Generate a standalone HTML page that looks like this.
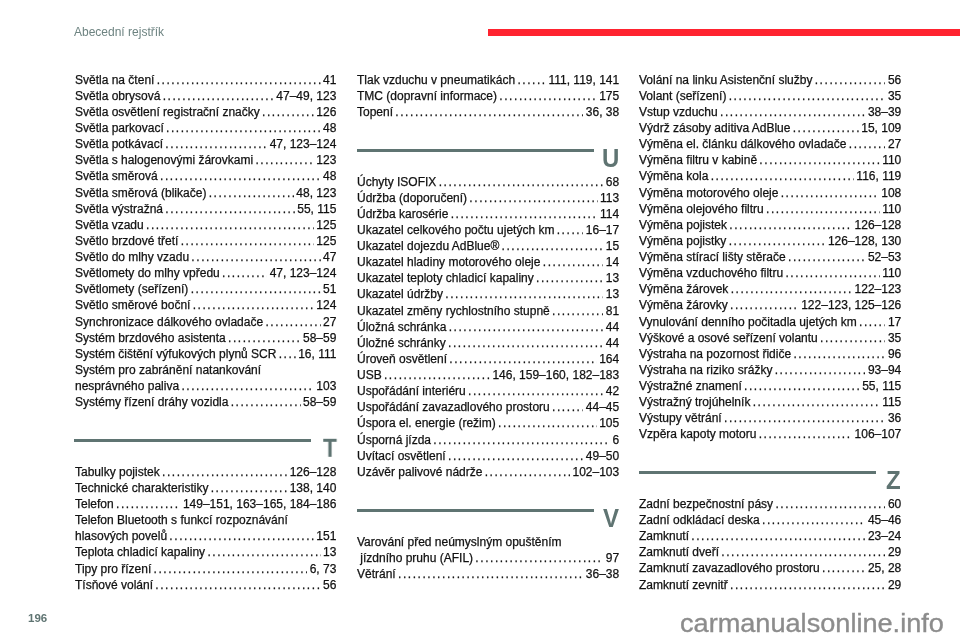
<!DOCTYPE html>
<html lang="cs"><head><meta charset="utf-8"><title>Abecední rejstřík</title>
<style>
*{margin:0;padding:0;box-sizing:border-box}
html,body{width:960px;height:640px;overflow:hidden;background:#fff}
body{position:relative;font-family:"Liberation Sans",Arial,sans-serif;color:#111}
.hdr{position:absolute;left:74.2px;top:23.8px;font-size:12px;line-height:16px;color:#6d8381;white-space:nowrap;will-change:transform}
.red{position:absolute;left:487.9px;top:29.05px;width:473px;height:6.6px;background:#ff2330}
.b{position:absolute;will-change:transform}
.r{display:flex;height:16px;line-height:16px;font-size:12px;white-space:nowrap;-webkit-text-stroke:0.25px #111}
.t,.n{flex:none}
.d{flex:1 1 0;min-width:0;overflow:hidden;white-space:nowrap;letter-spacing:1.554px;margin:0 2.5px 0 2.3px}
.bar{position:absolute;height:3.3px;background:#5f7472}
.let{position:absolute;font-size:24px;line-height:24px;font-weight:bold;color:#5f7472;transform-origin:0 2.95px;transform:scaleY(1.04);will-change:transform}
.pg{position:absolute;left:28.3px;top:610.5px;font-size:11.5px;line-height:14px;font-weight:bold;color:#5f7472;will-change:transform}
.wm{position:absolute;left:679.9px;top:608.1px;font-size:25px;line-height:30px;color:#8c8c8c;white-space:nowrap;transform-origin:0 0;transform:scaleX(1.085);-webkit-text-stroke:0.35px #8c8c8c;will-change:transform}
</style></head><body>
<div class="hdr">Abecední rejstřík</div>
<div class="red"></div>
<div class="b" style="left:74.5px;top:72px;width:261.4px">
<div class="r"><span class="t">Světla na čtení</span><span class="d">............................................................</span><span class="n">41</span></div>
<div class="r"><span class="t">Světla obrysová</span><span class="d">............................................................</span><span class="n">47–49, 123</span></div>
<div class="r"><span class="t">Světla osvětlení registrační značky</span><span class="d">............................................................</span><span class="n">126</span></div>
<div class="r"><span class="t">Světla parkovací</span><span class="d">............................................................</span><span class="n">48</span></div>
<div class="r"><span class="t">Světla potkávací</span><span class="d">............................................................</span><span class="n">47, 123–124</span></div>
<div class="r"><span class="t">Světla s halogenovými žárovkami</span><span class="d">............................................................</span><span class="n">123</span></div>
<div class="r" style="height:17px"><span class="t">Světla směrová</span><span class="d">............................................................</span><span class="n">48</span></div>
<div class="r"><span class="t">Světla směrová (blikače)</span><span class="d">............................................................</span><span class="n">48, 123</span></div>
<div class="r"><span class="t">Světla výstražná</span><span class="d">............................................................</span><span class="n">55, 115</span></div>
<div class="r"><span class="t">Světla vzadu</span><span class="d">............................................................</span><span class="n">125</span></div>
<div class="r"><span class="t">Světlo brzdové třetí</span><span class="d">............................................................</span><span class="n">125</span></div>
<div class="r"><span class="t">Světlo do mlhy vzadu</span><span class="d">............................................................</span><span class="n">47</span></div>
<div class="r"><span class="t">Světlomety do mlhy vpředu</span><span class="d">............................................................</span><span class="n">47, 123–124</span></div>
<div class="r"><span class="t">Světlomety (seřízení)</span><span class="d">............................................................</span><span class="n">51</span></div>
<div class="r" style="height:17px"><span class="t">Světlo směrové boční</span><span class="d">............................................................</span><span class="n">124</span></div>
<div class="r"><span class="t">Synchronizace dálkového ovladače</span><span class="d">............................................................</span><span class="n">27</span></div>
<div class="r"><span class="t">Systém brzdového asistenta</span><span class="d">............................................................</span><span class="n">58–59</span></div>
<div class="r"><span class="t">Systém čištění výfukových plynů SCR</span><span class="d">............................................................</span><span class="n">16, 111</span></div>
<div class="r"><span class="t">Systém pro zabránění natankování</span></div>
<div class="r"><span class="t">nesprávného paliva</span><span class="d">............................................................</span><span class="n">103</span></div>
<div class="r"><span class="t">Systémy řízení dráhy vozidla</span><span class="d">............................................................</span><span class="n">58–59</span></div>
</div>
<div class="bar" style="left:74.1px;top:439.1px;width:237.10px"></div><div class="let" style="left:322.5px;top:436.15px;transform:scale(0.95,1.04)">T</div>
<div class="b" style="left:74.5px;top:464px;width:261.4px">
<div class="r"><span class="t">Tabulky pojistek</span><span class="d">............................................................</span><span class="n">126–128</span></div>
<div class="r"><span class="t">Technické charakteristiky</span><span class="d">............................................................</span><span class="n">138, 140</span></div>
<div class="r"><span class="t">Telefon</span><span class="d">............................................................</span><span class="n">149–151, 163–165, 184–186</span></div>
<div class="r"><span class="t">Telefon Bluetooth s funkcí rozpoznávání</span></div>
<div class="r"><span class="t">hlasových povelů</span><span class="d">............................................................</span><span class="n">151</span></div>
<div class="r" style="height:17px"><span class="t">Teplota chladicí kapaliny</span><span class="d">............................................................</span><span class="n">13</span></div>
<div class="r"><span class="t">Tipy pro řízení</span><span class="d">............................................................</span><span class="n">6, 73</span></div>
<div class="r"><span class="t">Tísňové volání</span><span class="d">............................................................</span><span class="n">56</span></div>
</div>
<div class="b" style="left:356.6px;top:72px;width:262.2px">
<div class="r"><span class="t">Tlak vzduchu v pneumatikách</span><span class="d">............................................................</span><span class="n">111, 119, 141</span></div>
<div class="r"><span class="t">TMC (dopravní informace)</span><span class="d">............................................................</span><span class="n">175</span></div>
<div class="r"><span class="t">Topení</span><span class="d">............................................................</span><span class="n">36, 38</span></div>
</div>
<div class="bar" style="left:356.5px;top:149.0px;width:237.10px"></div><div class="let" style="left:601.5px;top:146.05px">U</div>
<div class="b" style="left:356.6px;top:174px;width:262.2px">
<div class="r"><span class="t">Úchyty ISOFIX</span><span class="d">............................................................</span><span class="n">68</span></div>
<div class="r"><span class="t">Údržba (doporučení)</span><span class="d">............................................................</span><span class="n">113</span></div>
<div class="r"><span class="t">Údržba karosérie</span><span class="d">............................................................</span><span class="n">114</span></div>
<div class="r"><span class="t">Ukazatel celkového počtu ujetých km</span><span class="d">............................................................</span><span class="n">16–17</span></div>
<div class="r"><span class="t">Ukazatel dojezdu AdBlue®</span><span class="d">............................................................</span><span class="n">15</span></div>
<div class="r"><span class="t">Ukazatel hladiny motorového oleje</span><span class="d">............................................................</span><span class="n">14</span></div>
<div class="r"><span class="t">Ukazatel teploty chladicí kapaliny</span><span class="d">............................................................</span><span class="n">13</span></div>
<div class="r" style="height:17px"><span class="t">Ukazatel údržby</span><span class="d">............................................................</span><span class="n">13</span></div>
<div class="r"><span class="t">Ukazatel změny rychlostního stupně</span><span class="d">............................................................</span><span class="n">81</span></div>
<div class="r"><span class="t">Úložná schránka</span><span class="d">............................................................</span><span class="n">44</span></div>
<div class="r"><span class="t">Úložné schránky</span><span class="d">............................................................</span><span class="n">44</span></div>
<div class="r"><span class="t">Úroveň osvětlení</span><span class="d">............................................................</span><span class="n">164</span></div>
<div class="r"><span class="t">USB</span><span class="d">............................................................</span><span class="n">146, 159–160, 182–183</span></div>
<div class="r"><span class="t">Uspořádání interiéru</span><span class="d">............................................................</span><span class="n">42</span></div>
<div class="r"><span class="t">Uspořádání zavazadlového prostoru</span><span class="d">............................................................</span><span class="n">44–45</span></div>
<div class="r" style="height:17px"><span class="t">Úspora el. energie (režim)</span><span class="d">............................................................</span><span class="n">105</span></div>
<div class="r"><span class="t">Úsporná jízda</span><span class="d">............................................................</span><span class="n">6</span></div>
<div class="r"><span class="t">Uvítací osvětlení</span><span class="d">............................................................</span><span class="n">49–50</span></div>
<div class="r"><span class="t">Uzávěr palivové nádrže</span><span class="d">............................................................</span><span class="n">102–103</span></div>
</div>
<div class="bar" style="left:356.5px;top:509.1px;width:237.10px"></div><div class="let" style="left:602.9px;top:506.15px">V</div>
<div class="b" style="left:356.6px;top:534px;width:262.2px">
<div class="r"><span class="t">Varování před neúmyslným opuštěním</span></div>
<div class="r"><span class="t"> jízdního pruhu (AFIL)</span><span class="d">............................................................</span><span class="n">97</span></div>
<div class="r"><span class="t">Větrání</span><span class="d">............................................................</span><span class="n">36–38</span></div>
</div>
<div class="b" style="left:639.0px;top:72px;width:262.3px">
<div class="r"><span class="t">Volání na linku Asistenční služby</span><span class="d">............................................................</span><span class="n">56</span></div>
<div class="r"><span class="t">Volant (seřízení)</span><span class="d">............................................................</span><span class="n">35</span></div>
<div class="r"><span class="t">Vstup vzduchu</span><span class="d">............................................................</span><span class="n">38–39</span></div>
<div class="r"><span class="t">Výdrž zásoby aditiva AdBlue</span><span class="d">............................................................</span><span class="n">15, 109</span></div>
<div class="r"><span class="t">Výměna el. článku dálkového ovladače</span><span class="d">............................................................</span><span class="n">27</span></div>
<div class="r"><span class="t">Výměna filtru v kabině</span><span class="d">............................................................</span><span class="n">110</span></div>
<div class="r" style="height:17px"><span class="t">Výměna kola</span><span class="d">............................................................</span><span class="n">116, 119</span></div>
<div class="r"><span class="t">Výměna motorového oleje</span><span class="d">............................................................</span><span class="n">108</span></div>
<div class="r"><span class="t">Výměna olejového filtru</span><span class="d">............................................................</span><span class="n">110</span></div>
<div class="r"><span class="t">Výměna pojistek</span><span class="d">............................................................</span><span class="n">126–128</span></div>
<div class="r"><span class="t">Výměna pojistky</span><span class="d">............................................................</span><span class="n">126–128, 130</span></div>
<div class="r"><span class="t">Výměna stírací lišty stěrače</span><span class="d">............................................................</span><span class="n">52–53</span></div>
<div class="r"><span class="t">Výměna vzduchového filtru</span><span class="d">............................................................</span><span class="n">110</span></div>
<div class="r"><span class="t">Výměna žárovek</span><span class="d">............................................................</span><span class="n">122–123</span></div>
<div class="r" style="height:17px"><span class="t">Výměna žárovky</span><span class="d">............................................................</span><span class="n">122–123, 125–126</span></div>
<div class="r"><span class="t">Vynulování denního počitadla ujetých km</span><span class="d">............................................................</span><span class="n">17</span></div>
<div class="r"><span class="t">Výškové a osové seřízení volantu</span><span class="d">............................................................</span><span class="n">35</span></div>
<div class="r"><span class="t">Výstraha na pozornost řidiče</span><span class="d">............................................................</span><span class="n">96</span></div>
<div class="r"><span class="t">Výstraha na riziko srážky</span><span class="d">............................................................</span><span class="n">93–94</span></div>
<div class="r"><span class="t">Výstražné znamení</span><span class="d">............................................................</span><span class="n">55, 115</span></div>
<div class="r"><span class="t">Výstražný trojúhelník</span><span class="d">............................................................</span><span class="n">115</span></div>
<div class="r"><span class="t">Výstupy větrání</span><span class="d">............................................................</span><span class="n">36</span></div>
<div class="r"><span class="t">Vzpěra kapoty motoru</span><span class="d">............................................................</span><span class="n">106–107</span></div>
</div>
<div class="bar" style="left:638.75px;top:471.2px;width:237.15px"></div><div class="let" style="left:886.2px;top:468.25px">Z</div>
<div class="b" style="left:639.0px;top:496px;width:262.3px">
<div class="r"><span class="t">Zadní bezpečnostní pásy</span><span class="d">............................................................</span><span class="n">60</span></div>
<div class="r"><span class="t">Zadní odkládací deska</span><span class="d">............................................................</span><span class="n">45–46</span></div>
<div class="r"><span class="t">Zamknutí</span><span class="d">............................................................</span><span class="n">23–24</span></div>
<div class="r"><span class="t">Zamknutí dveří</span><span class="d">............................................................</span><span class="n">29</span></div>
<div class="r" style="height:17px"><span class="t">Zamknutí zavazadlového prostoru</span><span class="d">............................................................</span><span class="n">25, 28</span></div>
<div class="r"><span class="t">Zamknutí zevnitř</span><span class="d">............................................................</span><span class="n">29</span></div>
</div>
<div class="pg">196</div>
<div class="wm">carmanualsonline.info</div>
</body></html>
